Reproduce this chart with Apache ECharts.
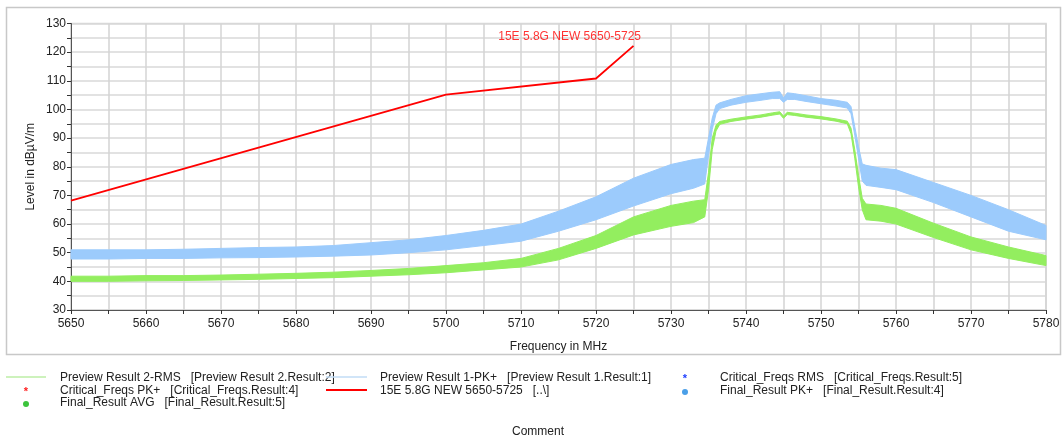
<!DOCTYPE html>
<html>
<head>
<meta charset="utf-8">
<script src="https://cdn.jsdelivr.net/npm/echarts@6/dist/echarts.min.js"></script>
<style>
  html, body { margin: 0; padding: 0; background: #fff; }
  #chart { width: 1063px; height: 441px; }
</style>
</head>
<body>
<div id="chart"></div>
<script>
// Frequency points (MHz) at which the trace envelopes are sampled
const freqs = [5650, 5655, 5660, 5665, 5670, 5675, 5680, 5685, 5690, 5695, 5700, 5705, 5710, 5715,
  5720, 5725, 5730, 5733, 5734.5, 5735, 5735.5, 5736, 5736.5, 5738, 5740, 5742, 5743.5, 5744.5,
  5745, 5745.5, 5746.5, 5748, 5750, 5752, 5753.5, 5754, 5754.5, 5755, 5755.5, 5756, 5758, 5760,
  5765, 5770, 5775, 5780];

// Preview Result 1-PK+ : lower / upper edge of the noise band (dBµV/m)
const pkLow = [47.8, 47.8, 48.0, 48.0, 48.2, 48.3, 48.5, 48.8, 49.2, 50.0, 51.0, 52.5, 54.0, 57.5,
  61.5, 66.3, 70.6, 72.5, 74.0, 84.0, 93.0, 98.5, 100.3, 101.5, 102.5, 103.2, 103.8, 103.8,
  102.5, 103.5, 103.5, 102.8, 102.0, 101.2, 100.5, 98.5, 91.0, 83.0, 75.0, 73.5, 72.8, 72.0,
  67.5, 62.5, 57.5, 54.5];
const pkHigh = [51.0, 51.0, 51.0, 51.2, 51.5, 51.8, 52.0, 52.5, 53.5, 54.5, 56.0, 57.8, 60.0, 64.5,
  69.5, 76.0, 80.8, 82.5, 83.0, 90.0, 97.0, 101.5, 102.3, 103.5, 104.8, 105.5, 106.0, 106.2,
  104.0, 105.8, 105.5, 104.8, 103.8, 103.2, 102.5, 101.0, 94.0, 87.0, 81.0, 80.5, 79.5, 79.0,
  74.5, 70.0, 65.0, 59.5];

// Preview Result 2-RMS : lower / upper edge of the noise band (dBµV/m)
const rmsLow = [40.0, 40.0, 40.2, 40.3, 40.5, 40.7, 41.0, 41.3, 41.8, 42.3, 43.0, 44.0, 45.0, 47.5,
  51.5, 56.2, 59.2, 60.5, 62.5, 72.0, 86.0, 92.5, 94.8, 95.8, 96.6, 97.3, 98.0, 98.4,
  96.9, 98.2, 97.9, 97.3, 96.7, 95.9, 95.0, 91.5, 83.0, 73.0, 65.0, 61.5, 61.0, 60.0,
  55.3, 51.0, 48.0, 45.5];
const rmsHigh = [41.8, 41.8, 42.0, 42.0, 42.2, 42.5, 42.8, 43.2, 43.8, 44.5, 45.5, 46.5, 48.0, 51.5,
  56.0, 62.5, 66.5, 68.0, 68.5, 78.0, 90.0, 94.5, 95.8, 96.6, 97.4, 98.1, 98.8, 99.2,
  97.7, 99.0, 98.7, 98.1, 97.5, 96.7, 95.9, 93.5, 86.0, 77.0, 69.0, 67.0, 66.5, 65.5,
  60.3, 55.5, 52.0, 49.0];

// Limit line 15E 5.8G NEW 5650-5725
const limitName = '15E 5.8G NEW 5650-5725';
const limitFreqs = [5650, 5700, 5720, 5725];
const limitLevels = [68.2, 105.2, 110.8, 122.2];

// Legend entries: [column, row, kind, colour, text]
const legendItems = [
  [0, 0, 'line', '#bdeea6', 'Preview Result 2-RMS   [Preview Result 2.Result:2]'],
  [0, 1, 'star', '#ff2020', 'Critical_Freqs PK+   [Critical_Freqs.Result:4]'],
  [0, 2, 'dot', '#3cc43c', 'Final_Result AVG   [Final_Result.Result:5]'],
  [1, 0, 'line', '#c2dcf6', 'Preview Result 1-PK+   [Preview Result 1.Result:1]'],
  [1, 1, 'line', '#ff0000', '15E 5.8G NEW 5650-5725   [..\\]'],
  [2, 0, 'star', '#2040ff', 'Critical_Freqs RMS   [Critical_Freqs.Result:5]'],
  [2, 1, 'dot', '#4a9fe8', 'Final_Result PK+   [Final_Result.Result:4]']
];

const FONT = "'Liberation Sans', Arial, sans-serif";
const chart = echarts.init(document.getElementById('chart'), null, { renderer: 'canvas' });

// Noise band drawn as one filled polygon between the lower and upper edges
function bandSeries(name, lo, hi, color, z) {
  return {
    type: 'custom',
    name: name,
    coordinateSystem: 'cartesian2d',
    silent: true,
    z: z,
    data: freqs.map((f, i) => [f, lo[i], hi[i]]),
    encode: { x: 0, y: [1, 2] },
    renderItem: function (params, api) {
      if (params.dataIndex !== 0) return null;
      const top = [], bottom = [];
      for (let i = 0; i < freqs.length; i++) {
        top.push(api.coord([api.value(0, i), api.value(2, i)]));
        bottom.push(api.coord([api.value(0, i), api.value(1, i)]));
      }
      return {
        type: 'polygon',
        shape: { points: top.concat(bottom.reverse()) },
        style: { fill: color, stroke: color, lineWidth: 1 }
      };
    }
  };
}

// Legend block below the plot
const colX = [[6, 46, 60], [326, 367, 380], [665, 705, 720]];
const rowY = [378, 391, 403];
const legendGraphics = [];
legendItems.forEach(([c, r, kind, color, text]) => {
  const [x0, x1, tx] = colX[c];
  const y = rowY[r];
  const mid = c === 2 ? 685 : 26;
  if (kind === 'line') {
    legendGraphics.push({ type: 'line', shape: { x1: x0, y1: y - 1, x2: x1, y2: y - 1 },
      style: { stroke: color, lineWidth: color === '#ff0000' ? 2 : 1.5 } });
  } else if (kind === 'star') {
    legendGraphics.push({ type: 'text', x: mid, y: y + 1,
      style: { text: '*', fill: color, font: 'bold 11px ' + FONT, align: 'center', verticalAlign: 'middle' } });
  } else {
    legendGraphics.push({ type: 'circle', shape: { cx: mid, cy: y + 1, r: 3 }, style: { fill: color } });
  }
  legendGraphics.push({ type: 'text', x: tx, y: y,
    style: { text: text, fill: '#222', font: '12px ' + FONT, verticalAlign: 'middle' } });
});

const option = {
  animation: false,
  backgroundColor: '#fff',
  grid: { left: 71, right: 17, top: 23.5, bottom: 131, show: true,
    borderColor: '#d6d6d6', borderWidth: 1.5, backgroundColor: 'transparent' },
  xAxis: {
    type: 'value', min: 5650, max: 5780, interval: 10,
    name: 'Frequency in MHz', nameLocation: 'middle', nameGap: 31, nameMoveOverlap: false,
    nameTextStyle: { fontFamily: FONT, fontSize: 12, color: '#222' },
    axisLine: { show: true, onZero: false, lineStyle: { color: '#555', width: 1 } },
    axisTick: { show: true, inside: false, length: 4, lineStyle: { color: '#333' } },
    minorTick: { show: true, splitNumber: 2, length: 4, lineStyle: { color: '#333' } },
    axisLabel: { fontFamily: FONT, fontSize: 12, color: '#222', margin: 8,
      formatter: v => String(v) },
    splitLine: { show: true, lineStyle: { color: '#d4d4d4', width: 1.5 } },
    minorSplitLine: { show: true, lineStyle: { color: '#d4d4d4', width: 1.5 } }
  },
  yAxis: {
    type: 'value', min: 30, max: 130, interval: 10,
    name: 'Level in dBµV/m', nameLocation: 'middle', nameGap: 34, nameRotate: 90,
    nameMoveOverlap: false,
    nameTextStyle: { fontFamily: FONT, fontSize: 12, color: '#222' },
    axisLine: { show: true, onZero: false, lineStyle: { color: '#555', width: 1 } },
    axisTick: { show: true, inside: false, length: 4, lineStyle: { color: '#333' } },
    minorTick: { show: true, splitNumber: 2, length: 4, lineStyle: { color: '#333' } },
    axisLabel: { fontFamily: FONT, fontSize: 12, color: '#222', margin: 5 },
    splitLine: { show: true, lineStyle: { color: '#d9d9d9', width: 1.5 } },
    minorSplitLine: { show: true, lineStyle: { color: '#d9d9d9', width: 1.5 } }
  },
  graphic: [
    { type: 'rect', silent: true, z: -10,
      shape: { x: 6.5, y: 7.5, width: 1054, height: 347 },
      style: { fill: 'none', stroke: '#c8c8c8', lineWidth: 1.5 } },
    ...legendGraphics,
    { type: 'text', x: 538, y: 432,
      style: { text: 'Comment', fill: '#222', font: '12px ' + FONT, align: 'center', verticalAlign: 'middle' } }
  ],
  series: [
    bandSeries('Preview Result 1-PK+', pkLow, pkHigh, '#9ccbfc', 3),
    bandSeries('Preview Result 2-RMS', rmsLow, rmsHigh, '#93ee5f', 4),
    {
      type: 'line',
      name: limitName,
      z: 5,
      showSymbol: false,
      symbol: 'none',
      lineStyle: { color: '#ff0000', width: 1.8 },
      data: limitFreqs.map((f, i) => [f, limitLevels[i]])
    },
    {
      // name tag of the limit line, anchored at its last point
      type: 'scatter',
      name: limitName + ' tag',
      z: 6,
      silent: true,
      symbolSize: 1,
      itemStyle: { color: 'rgba(255,0,0,0)' },
      data: [[limitFreqs[limitFreqs.length - 1], limitLevels[limitLevels.length - 1]]],
      label: { show: true, position: 'left', distance: 0, offset: [8, -9], formatter: limitName,
        fontFamily: FONT, fontSize: 12, color: '#ff0000' }
    }
  ]
};
chart.setOption(option);
</script>
</body>
</html>
